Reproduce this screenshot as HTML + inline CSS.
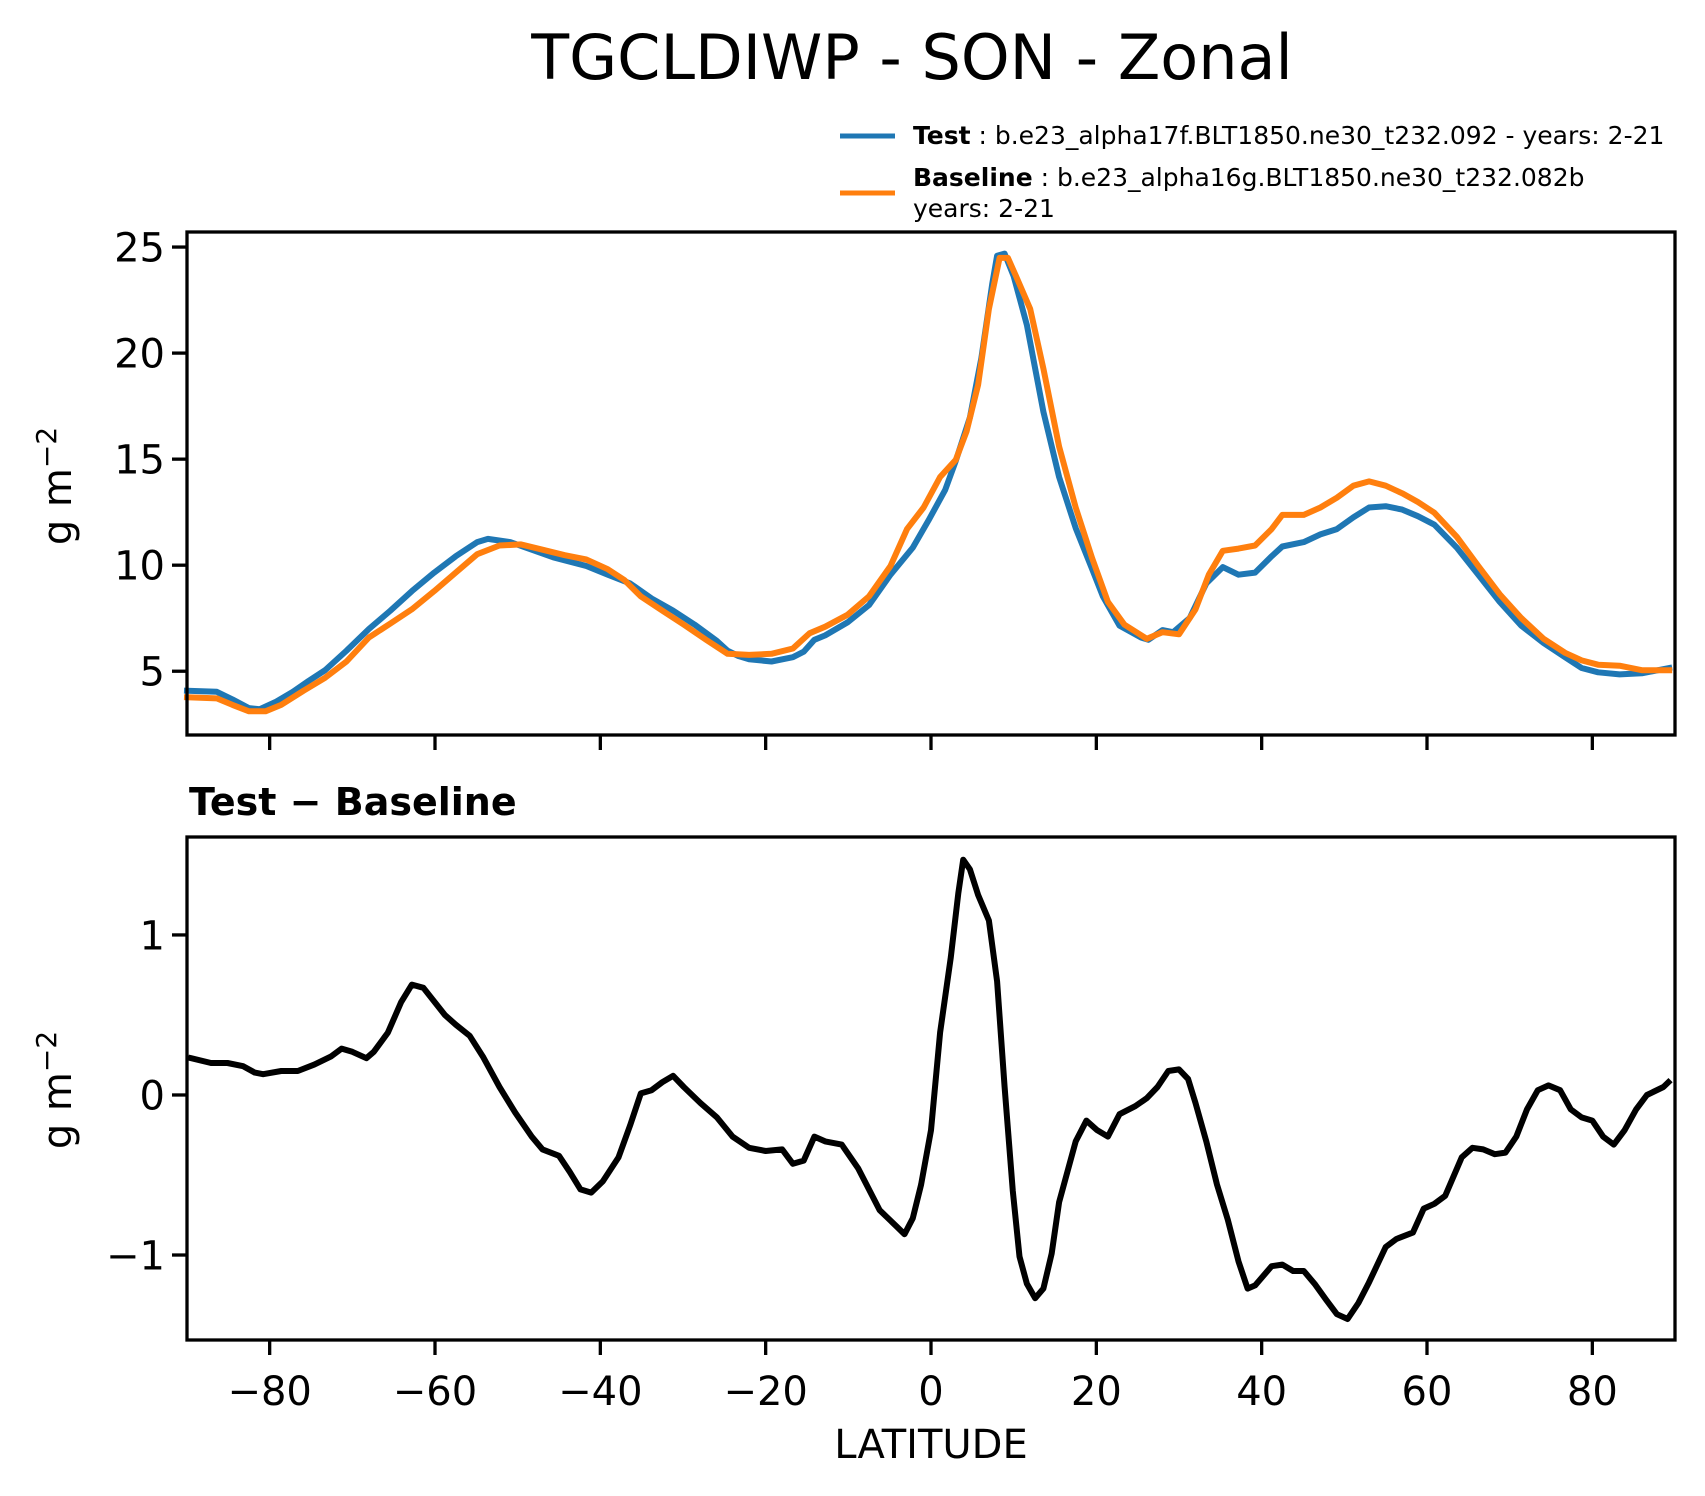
<!DOCTYPE html>
<html><head><meta charset="utf-8"><title>TGCLDIWP - SON - Zonal</title>
<style>
html,body{margin:0;padding:0;background:#fff;}
svg{display:block;font-family:"DejaVu Sans","Liberation Sans",sans-serif;}
</style></head>
<body>
<svg id="chart" width="1705" height="1496" viewBox="0 0 1705 1496" xmlns="http://www.w3.org/2000/svg">
<rect x="0" y="0" width="1705" height="1496" fill="#fff"/>
<text x="912" y="79" font-size="62" text-anchor="middle">TGCLDIWP - SON - Zonal</text>
<g>
  <line x1="840" y1="136" x2="895" y2="136" stroke="#1f77b4" stroke-width="5"/>
  <text x="913" y="144" font-size="25"><tspan font-weight="bold">Test</tspan> : b.e23_alpha17f.BLT1850.ne30_t232.092 - years: 2-21</text>
  <line x1="840" y1="193" x2="895" y2="193" stroke="#ff7f0e" stroke-width="5"/>
  <text x="913" y="186" font-size="25"><tspan font-weight="bold">Baseline</tspan> : b.e23_alpha16g.BLT1850.ne30_t232.082b</text>
  <text x="913" y="217" font-size="25">years: 2-21</text>
</g>
<g id="topPanel"></g>
<g id="botPanel"></g>
<text x="189" y="815" font-size="38" font-weight="bold">Test − Baseline</text>
<text x="931" y="1458" font-size="40" text-anchor="middle">LATITUDE</text>
<text transform="translate(71,486) rotate(-90)" font-size="40" text-anchor="middle">g m<tspan dy="-15" font-size="28">−2</tspan></text>
<text transform="translate(71,1090) rotate(-90)" font-size="40" text-anchor="middle">g m<tspan dy="-15" font-size="28">−2</tspan></text>
</svg>
<script>
const testLat = [-90,-86.4,-84.5,-82.5,-81.2,-79.2,-77.2,-75.3,-73.3,-70.7,-68,-65.4,-62.8,-60.1,-57.5,-54.9,-53.6,-50.9,-48.3,-45.7,-41.7,-39.1,-36.4,-33.8,-31.2,-28.6,-25.9,-24.6,-23.3,-22,-19.3,-16.7,-15.4,-14.1,-12.8,-10.1,-7.5,-4.9,-2.2,-0.3,1.7,3,4.7,6.1,7.4,8,8.9,10,11.6,13.6,15.5,17.5,19.5,20.8,22.8,25.4,26.3,28,29.3,31.3,33.3,35.3,37.2,39.2,41.2,42.5,45.1,47.1,49.1,51.1,53,55,57,58.9,60.9,63.6,66.2,68.8,71.4,74.1,76.7,78.7,80.7,83.3,86,89.3];
const testVal = [4.08,4.03,3.67,3.26,3.21,3.57,4.03,4.54,5.05,5.97,6.99,7.86,8.78,9.65,10.42,11.09,11.24,11.09,10.73,10.37,9.96,9.55,9.14,8.43,7.86,7.2,6.43,5.97,5.72,5.56,5.46,5.66,5.92,6.48,6.69,7.3,8.12,9.55,10.83,12.11,13.54,14.92,16.97,19.78,23.26,24.59,24.69,23.62,21.32,17.23,14.16,11.75,9.81,8.53,7.15,6.59,6.48,6.94,6.84,7.51,9.14,9.91,9.55,9.65,10.42,10.88,11.09,11.45,11.7,12.26,12.72,12.78,12.62,12.31,11.91,10.83,9.55,8.27,7.15,6.33,5.66,5.15,4.95,4.85,4.9,5.15];
const baseLat = [-90,-86.4,-84.5,-82.5,-80.5,-78.6,-75.9,-73.3,-70.7,-68,-65.4,-62.8,-60.1,-57.5,-54.9,-52.2,-49.6,-47,-44.3,-41.7,-39.1,-37.1,-35.1,-32.5,-29.9,-27.2,-24.6,-22,-19.3,-16.7,-14.7,-12.8,-10.1,-7.5,-4.9,-2.9,-0.9,1.1,3,4.3,5.7,7,8.3,9.3,10.3,12,13.6,15.5,17.5,19.5,21.4,23.4,26.1,28,30,32,33.6,35.3,37.2,39.2,41.2,42.5,45.1,47.1,49.1,51.1,53,55,57,58.9,60.9,63.6,66.2,68.8,71.4,74.1,76.7,78.7,80.7,83.3,86,89.3];
const baseVal = [3.77,3.72,3.41,3.11,3.11,3.41,4.08,4.69,5.46,6.59,7.25,7.92,8.78,9.65,10.52,10.93,10.98,10.73,10.47,10.27,9.81,9.3,8.53,7.86,7.2,6.48,5.82,5.77,5.82,6.07,6.79,7.1,7.66,8.53,9.96,11.7,12.72,14.16,14.97,16.3,18.5,22.08,24.49,24.49,23.62,22.08,19.27,15.59,12.72,10.32,8.27,7.2,6.53,6.84,6.74,7.92,9.55,10.68,10.78,10.93,11.7,12.37,12.37,12.72,13.18,13.75,13.95,13.75,13.39,12.98,12.47,11.34,9.96,8.63,7.51,6.53,5.87,5.51,5.31,5.26,5.05,5.05];
const diffLat = [-89.5,-87.1,-85.1,-83.2,-81.8,-80.8,-78.6,-76.6,-74.6,-72.6,-71.3,-70,-68.3,-67.4,-65.7,-64.1,-62.8,-61.4,-58.8,-57.5,-55.8,-54.2,-52.2,-50.3,-48.3,-47,-45,-43.7,-42.4,-41.1,-39.7,-37.8,-36.4,-35.1,-33.8,-32.5,-31.2,-29.9,-27.9,-25.9,-24,-22,-20,-18,-16.7,-15.4,-14.1,-12.8,-10.8,-8.8,-6.2,-4.2,-3.2,-2.2,-1.2,0,1.1,2.4,3.3,3.9,4.7,5.7,7,8,8.9,9.9,10.7,11.6,12.6,13.6,14.6,15.5,17.5,18.8,20.1,21.4,22.8,24.7,26.1,27.4,28.7,30,31.1,32,33.3,34.6,35.9,37.2,38.3,39.2,41.2,42.5,43.8,45.1,46.4,47.8,49.1,50.4,51.7,53,55,56.3,58.3,59.6,60.9,62.2,64.2,65.5,66.8,68.2,69.5,70.8,72.1,73.4,74.7,76.1,77.4,78.7,80,81.3,82.6,83.9,85.3,86.6,88.6,89.2];
const diffVal = [0.23,0.2,0.2,0.18,0.14,0.13,0.15,0.15,0.19,0.24,0.29,0.27,0.23,0.27,0.39,0.58,0.69,0.67,0.5,0.44,0.37,0.24,0.05,-0.11,-0.26,-0.34,-0.38,-0.48,-0.59,-0.61,-0.54,-0.39,-0.19,0.01,0.03,0.08,0.12,0.05,-0.05,-0.14,-0.26,-0.33,-0.35,-0.34,-0.43,-0.41,-0.26,-0.29,-0.31,-0.46,-0.72,-0.82,-0.87,-0.77,-0.56,-0.22,0.39,0.86,1.26,1.47,1.41,1.25,1.09,0.71,0.05,-0.6,-1.01,-1.18,-1.27,-1.21,-0.99,-0.67,-0.29,-0.16,-0.22,-0.26,-0.12,-0.07,-0.02,0.05,0.15,0.16,0.1,-0.05,-0.29,-0.56,-0.78,-1.04,-1.21,-1.19,-1.07,-1.06,-1.1,-1.1,-1.18,-1.28,-1.37,-1.4,-1.3,-1.17,-0.95,-0.9,-0.86,-0.71,-0.68,-0.63,-0.39,-0.33,-0.34,-0.37,-0.36,-0.26,-0.09,0.03,0.06,0.03,-0.09,-0.14,-0.16,-0.26,-0.31,-0.22,-0.09,0.0,0.05,0.08];
const xTicks = [-80,-60,-40,-20,0,20,40,60,80];
const xTickLabels = ["−80","−60","−40","−20","0","20","40","60","80"];
const topTicks = [5,10,15,20,25];
const botTicks = [-1,0,1];
const botTickLabels = ["−1","0","1"];

const NS = "http://www.w3.org/2000/svg";
const X0 = 187, X1 = 1675;
const xs = v => X0 + (v + 90) / 180 * (X1 - X0);
const topAx = {y0: 232, y1: 735, min: 1.993, max: 25.71};
const botAx = {y0: 837, y1: 1340, min: -1.531, max: 1.612};
const ys = (ax, v) => ax.y1 - (v - ax.min) / (ax.max - ax.min) * (ax.y1 - ax.y0);

function mk(tag, attrs, parent) {
  const e = document.createElementNS(NS, tag);
  for (const k in attrs) e.setAttribute(k, attrs[k]);
  parent.appendChild(e);
  return e;
}
function drawLine(g, lat, val, ax, color) {
  const d = lat.map((la, i) => (i ? "L" : "M") + xs(la).toFixed(1) + "," + ys(ax, val[i]).toFixed(1)).join(" ");
  return mk("path", {d: d, fill: "none", stroke: color, "stroke-width": 6, "stroke-linejoin": "round", "stroke-linecap": "square"}, g);
}
function frame(g, ax, yticks, ylabels, showX) {
  const r = mk("rect", {x: X0, y: ax.y0, width: X1 - X0, height: ax.y1 - ax.y0, fill: "none", stroke: "#000", "stroke-width": 3.3}, g);
  
  
  xTicks.forEach((t, i) => {
    const tk = mk("line", {x1: xs(t), x2: xs(t), y1: ax.y1, y2: ax.y1 + 15, stroke: "#000", "stroke-width": 3.3}, g);
    
    
    if (showX) {
      const tl = mk("text", {x: xs(t), y: 1405, "font-size": 40, "text-anchor": "middle"}, g);
      tl.textContent = xTickLabels[i];
      
      
    }
  });
  yticks.forEach((t, i) => {
    const y = ys(ax, t);
    const tk = mk("line", {x1: X0 - 15, x2: X0, y1: y, y2: y, stroke: "#000", "stroke-width": 3.3}, g);
    
    
    const tl = mk("text", {x: X0 - 22, y: y + 14.5, "font-size": 40, "text-anchor": "end"}, g);
    tl.textContent = ylabels[i];
    
    
  });
}
const topG = document.getElementById("topPanel");
const botG = document.getElementById("botPanel");
const tp = drawLine(topG, testLat, testVal, topAx, "#1f77b4");


const bp = drawLine(topG, baseLat, baseVal, topAx, "#ff7f0e");


frame(topG, topAx, topTicks, topTicks.map(String), false);
const dp = drawLine(botG, diffLat, diffVal, botAx, "#000");


frame(botG, botAx, botTicks, botTickLabels, true);
</script>
</body></html>
